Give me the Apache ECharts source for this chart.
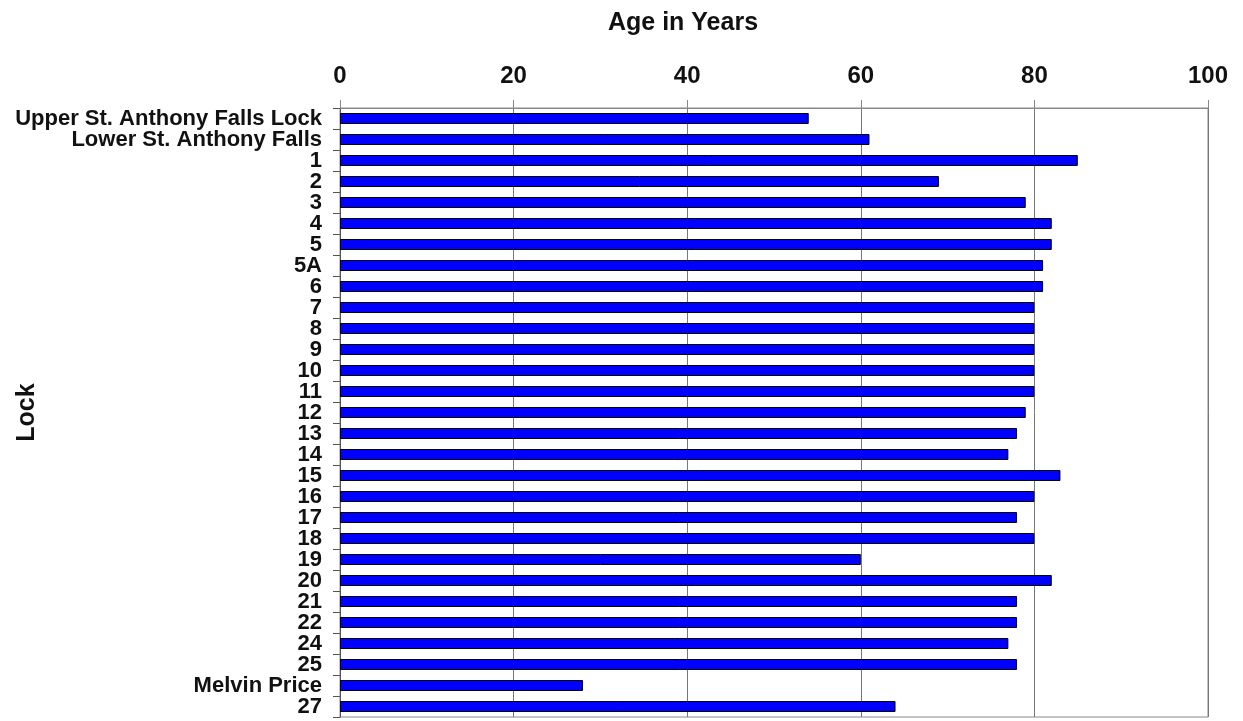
<!DOCTYPE html>
<html>
<head>
<meta charset="utf-8">
<script src="https://cdn.jsdelivr.net/npm/echarts@6/dist/echarts.min.js"></script>
<style>
  html, body { margin: 0; padding: 0; background: #fff; }
  #chart { width: 1243px; height: 721px; }
</style>
</head>
<body>
<div id="chart"></div>
<script>
const locks = [
  "Upper St. Anthony Falls Lock", "Lower St. Anthony Falls", "1", "2", "3", "4", "5", "5A",
  "6", "7", "8", "9", "10", "11", "12", "13", "14", "15", "16", "17", "18", "19", "20",
  "21", "22", "24", "25", "Melvin Price", "27"
];
const ages = [
  54, 61, 85, 69, 79, 82, 82, 81, 81, 80, 80, 80, 80, 80, 79, 78, 77, 83, 80, 78, 80, 60, 82,
  78, 78, 77, 78, 28, 64
];
const ageTicks = [0, 20, 40, 60, 80, 100];

const font = "Liberation Sans, Arial, sans-serif";

echarts.init(document.getElementById("chart")).setOption({
  animation: false,
  title: {
    text: "Age in Years",
    left: 678,
    top: 6,
    textAlign: "center",
    textStyle: { fontFamily: font, fontSize: 25, fontWeight: "bold", color: "#111" },
  },
  grid: {
    left: 340,
    right: 35,
    top: 108,
    bottom: 4,
    outerBoundsMode: "none",
    containLabel: false,
    show: true,
    borderColor: "#888",
    borderWidth: 1,
  },
  xAxis: {
    type: "value",
    position: "top",
    min: ageTicks[0],
    max: ageTicks[ageTicks.length - 1],
    interval: 20,
    axisLine: { show: true, lineStyle: { color: "#888" } },
    axisTick: { show: true, length: 8, lineStyle: { color: "#888" } },
    axisLabel: { fontFamily: font, fontSize: 24, fontWeight: "bold", color: "#111", margin: 20 },
    splitLine: { show: true, lineStyle: { color: "#777", width: 1 } },
  },
  yAxis: {
    type: "category",
    inverse: true,
    data: locks,
    name: "Lock",
    nameLocation: "middle",
    nameGap: 300,
    nameRotate: 90,
    nameMoveOverlap: false,
    nameTextStyle: { fontFamily: font, fontSize: 25, fontWeight: "bold", color: "#111" },
    axisLine: { show: true, lineStyle: { color: "#555" } },
    axisTick: { show: true, length: 7, lineStyle: { color: "#555" } },
    axisLabel: { fontFamily: font, fontSize: 22, fontWeight: "bold", color: "#111", margin: 18, interval: 0 },
  },
  series: [
    {
      type: "bar",
      data: ages,
      barWidth: 11,
      itemStyle: { color: "#0000ff", borderColor: "#000", borderWidth: 1 },
    },
  ],
});
</script>
</body>
</html>
